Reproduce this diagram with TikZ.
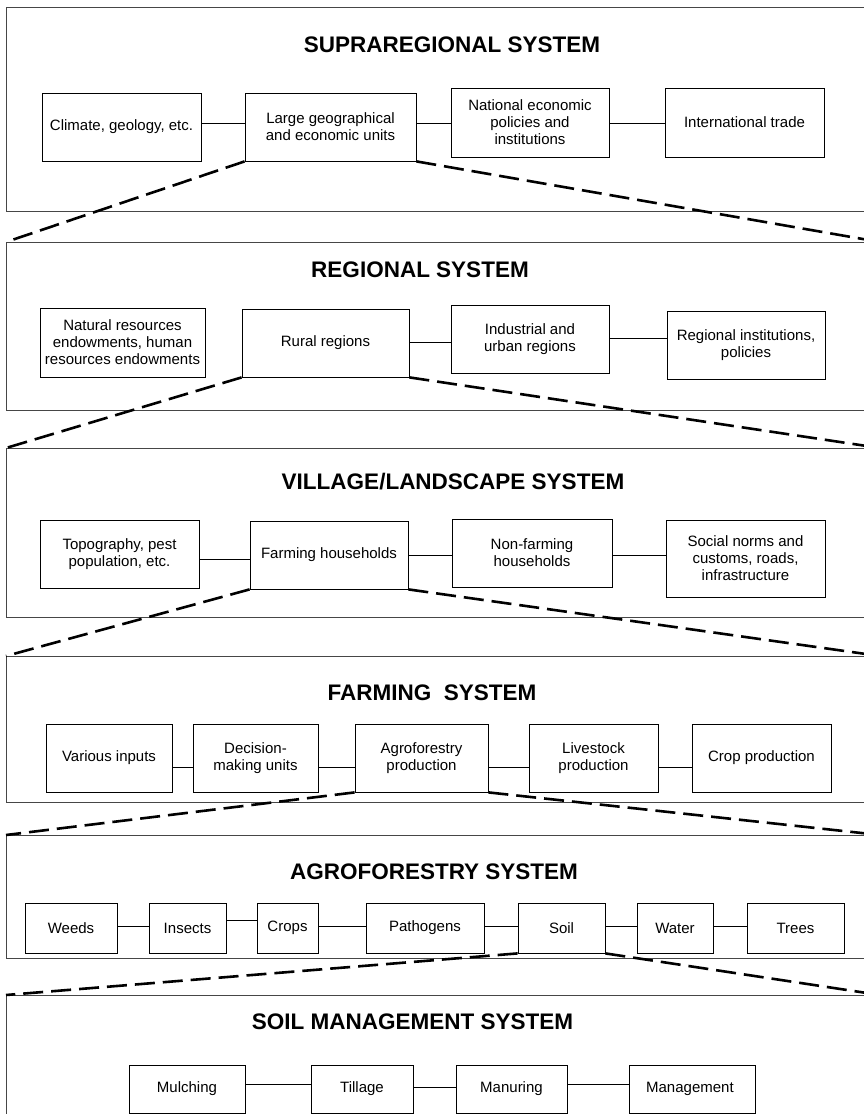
\documentclass[tikz,border=0pt]{standalone}
\usepackage{fontspec}
\setmainfont{Liberation Sans}
\begin{document}
\begin{tikzpicture}[x=1pt, y=-1pt, font=\fontsize{15}{17}\selectfont]
    % Kolory
    \definecolor{frameGray}{RGB}{70, 70, 70}
    \tikzset{
        frame/.style={draw=frameGray, line width=0.9pt},
        unit/.style={draw, line width=0.8pt, align=center, inner sep=1pt},
        link/.style={line width=0.7pt},
        zoomline/.style={line width=2.6pt, dash pattern=on 20pt off 8pt},
        heading/.style={font=\fontsize{22.5}{26}\selectfont\bfseries}
    }
    \useasboundingbox (0,0) rectangle (864,1114);
    \clip (0,0) rectangle (864,1114);

    % Ramki
    \foreach \i/\top/\bot in {1/7/211, 2/242/410, 3/448/617, 4/656/802, 5/835/958, 6/995/1140} {
        \draw[frame] (6,\top) rectangle (880,\bot);
        \coordinate (fr\i-l) at (6,\top);
        \coordinate (fr\i-r) at (880,\top);
    }

    % Tytuly
    \node[heading] (t1) at (452, 45) {SUPRAREGIONAL SYSTEM};
    \node[heading] (t2) at (420, 270) {REGIONAL SYSTEM};
    \node[heading] (t3) at (453, 482) {VILLAGE/LANDSCAPE SYSTEM};
    \node[heading] (t4) at (432, 693) {FARMING~~SYSTEM};
    \node[heading] (t5) at (434, 872) {AGROFORESTRY SYSTEM};
    \node[heading] (t6) at (412.5, 1022) {SOIL MANAGEMENT SYSTEM};

    % Bloki
    \foreach \n/\x/\y/\w/\h/\t in {
        clim/121.5/127/159/68/{Climate, geology, etc.},
        large/330.5/127/171/68/{Large geographical\\and economic units},
        natl/530/122.5/158/69/{National economic\\policies and\\institutions},
        intl/744.5/122.5/159/69/{International trade},
        nat/122.5/342.5/165/69/{Natural resources\\endowments, human\\resources endowments},
        rural/325.5/343/167/68/{Rural regions},
        indus/530/339/158/68/{Industrial and\\urban regions},
        regin/746/345/158/68/{Regional institutions,\\policies},
        topo/119.5/554/159/68/{Topography, pest\\population, etc.},
        farmh/329/555/158/68/{Farming households},
        nonf/532/553/160/68/{Non-farming\\households},
        social/745.5/558.5/159/77/{Social norms and\\customs, roads,\\infrastructure},
        various/109/758/126/68/{Various inputs},
        decis/255.5/758/125/68/{Decision-\\making units},
        agro/421.5/758/133/68/{Agroforestry\\production},
        live/593.5/758/129/68/{Livestock\\production},
        cropp/761.5/758/139/68/{Crop production},
        weeds/71/928/92/50/{Weeds},
        insects/187.5/928/77/50/{Insects},
        crops/287.5/928/61/50/{Crops},
        patho/425/928/118/50/{Pathogens},
        soil/561.5/928/87/50/{Soil},
        water/675/928/76/50/{Water},
        trees/795.5/928/97/50/{Trees},
        mulch/187/1089/116/48/{Mulching},
        till/362/1089/102/48/{Tillage},
        manur/511.5/1089/111/48/{Manuring},
        mgmt/692/1089/126/48/{Management}
    } {
        \node[unit, minimum width=\w pt, minimum height=\h pt] (\n) at (\x,\y) {\t};
    }

    % Polaczenia
    \foreach \a/\b/\y in {clim/large/123, large/natl/123, natl/intl/123,
        rural/indus/342, indus/regin/338,
        topo/farmh/559, farmh/nonf/555, nonf/social/555,
        various/decis/767, decis/agro/767, agro/live/767, live/cropp/767,
        weeds/insects/926, insects/crops/920, crops/patho/926, patho/soil/926,
        soil/water/926, water/trees/926,
        mulch/till/1084, till/manur/1087, manur/mgmt/1084} {
        \draw[link] (\a.east |- 0,\y) -- (\b.west |- 0,\y);
    }

    % Powiekszenia
    \foreach \n/\i in {large/2, rural/3, farmh/4, agro/5, soil/6} {
        \draw[zoomline] (\n.south west) -- (fr\i-l);
        \draw[zoomline] (\n.south east) -- (fr\i-r);
    }
\end{tikzpicture}
\end{document}
